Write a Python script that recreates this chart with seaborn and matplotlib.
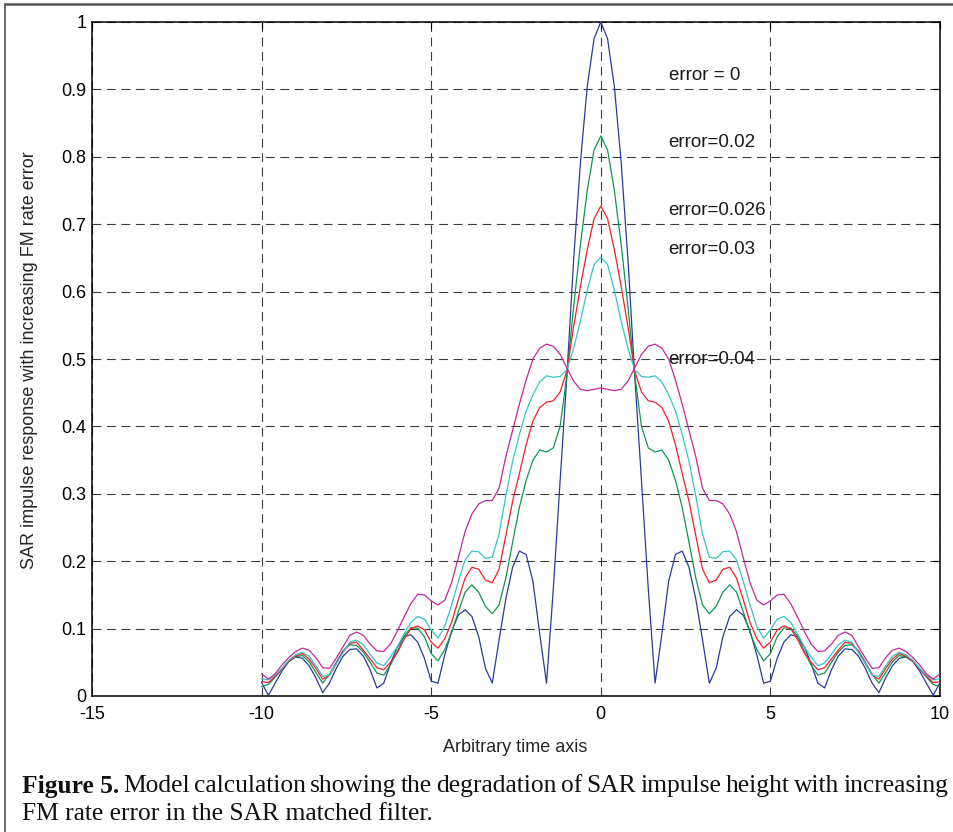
import matplotlib
matplotlib.use("Agg")
import matplotlib.pyplot as plt
from matplotlib.lines import Line2D
import numpy as np
import pandas as pd
import seaborn as sns

# ---------------- data ----------------
time_axis = [-10.0, -9.8, -9.6, -9.4, -9.2, -9.0, -8.8, -8.6, -8.4, -8.2,
             -8.0, -7.8, -7.6, -7.4, -7.2, -7.0, -6.8, -6.6, -6.4, -6.2,
             -6.0, -5.8, -5.6, -5.4, -5.2, -5.0, -4.8, -4.6, -4.4, -4.2,
             -4.0, -3.8, -3.6, -3.4, -3.2, -3.0, -2.8, -2.6, -2.4, -2.2,
             -2.0, -1.8, -1.6, -1.4, -1.2, -1.0, -0.8, -0.6, -0.4, -0.2,
             0.0, 0.2, 0.4, 0.6, 0.8, 1.0, 1.2, 1.4, 1.6, 1.8,
             2.0, 2.2, 2.4, 2.6, 2.8, 3.0, 3.2, 3.4, 3.6, 3.8,
             4.0, 4.2, 4.4, 4.6, 4.8, 5.0, 5.2, 5.4, 5.6, 5.8,
             6.0, 6.2, 6.4, 6.6, 6.8, 7.0, 7.2, 7.4, 7.6, 7.8,
             8.0, 8.2, 8.4, 8.6, 8.8, 9.0, 9.2, 9.4, 9.6, 9.8, 10.0]

err_000 = [0.020, 0.001, 0.019, 0.037, 0.051, 0.058, 0.056, 0.045, 0.027, 0.005,
           0.019, 0.041, 0.059, 0.069, 0.070, 0.059, 0.039, 0.012, 0.019, 0.048,
           0.073, 0.088, 0.091, 0.080, 0.056, 0.022, 0.019, 0.061, 0.096, 0.120,
           0.128, 0.118, 0.088, 0.041, 0.019, 0.083, 0.144, 0.191, 0.215, 0.210,
           0.170, 0.092, 0.019, 0.159, 0.319, 0.475, 0.648, 0.792, 0.904, 0.975,
           1.000,
           0.975, 0.904, 0.792, 0.648, 0.475, 0.319, 0.159, 0.019, 0.092, 0.170,
           0.210, 0.215, 0.191, 0.144, 0.083, 0.019, 0.041, 0.088, 0.118, 0.128,
           0.120, 0.096, 0.061, 0.019, 0.022, 0.056, 0.080, 0.091, 0.088, 0.073,
           0.048, 0.019, 0.012, 0.039, 0.059, 0.070, 0.069, 0.059, 0.041, 0.019,
           0.005, 0.027, 0.045, 0.056, 0.058, 0.051, 0.037, 0.019, 0.001, 0.020]

err_020 = [0.014, 0.017, 0.028, 0.040, 0.052, 0.058, 0.060, 0.051, 0.035, 0.019,
           0.032, 0.050, 0.067, 0.076, 0.075, 0.065, 0.050, 0.034, 0.031, 0.046,
           0.066, 0.089, 0.101, 0.101, 0.088, 0.063, 0.052, 0.069, 0.094, 0.125,
           0.154, 0.165, 0.154, 0.133, 0.122, 0.135, 0.175, 0.228, 0.280, 0.320,
           0.350, 0.365, 0.362, 0.368, 0.400, 0.476, 0.578, 0.670, 0.750, 0.810,
           0.831,
           0.810, 0.750, 0.670, 0.578, 0.476, 0.400, 0.368, 0.362, 0.365, 0.350,
           0.320, 0.280, 0.228, 0.175, 0.135, 0.122, 0.133, 0.154, 0.165, 0.154,
           0.125, 0.094, 0.069, 0.052, 0.063, 0.088, 0.101, 0.101, 0.089, 0.066,
           0.046, 0.031, 0.034, 0.050, 0.065, 0.075, 0.076, 0.067, 0.050, 0.032,
           0.019, 0.035, 0.051, 0.060, 0.058, 0.052, 0.040, 0.028, 0.017, 0.014]

err_026 = [0.021, 0.020, 0.029, 0.040, 0.052, 0.059, 0.063, 0.055, 0.041, 0.025,
           0.031, 0.048, 0.066, 0.078, 0.080, 0.068, 0.055, 0.042, 0.039, 0.050,
           0.064, 0.084, 0.100, 0.104, 0.098, 0.080, 0.071, 0.085, 0.109, 0.143,
           0.175, 0.191, 0.188, 0.172, 0.168, 0.188, 0.238, 0.289, 0.330, 0.373,
           0.408, 0.428, 0.436, 0.438, 0.451, 0.482, 0.548, 0.608, 0.662, 0.708,
           0.727,
           0.708, 0.662, 0.608, 0.548, 0.482, 0.451, 0.438, 0.436, 0.428, 0.408,
           0.373, 0.330, 0.289, 0.238, 0.188, 0.168, 0.172, 0.188, 0.191, 0.175,
           0.143, 0.109, 0.085, 0.071, 0.080, 0.098, 0.104, 0.100, 0.084, 0.064,
           0.050, 0.039, 0.042, 0.055, 0.068, 0.080, 0.078, 0.066, 0.048, 0.031,
           0.025, 0.041, 0.055, 0.063, 0.059, 0.052, 0.040, 0.029, 0.020, 0.021]

err_030 = [0.026, 0.024, 0.031, 0.041, 0.053, 0.061, 0.065, 0.059, 0.045, 0.029,
           0.031, 0.048, 0.064, 0.080, 0.083, 0.076, 0.062, 0.049, 0.045, 0.058,
           0.073, 0.092, 0.109, 0.118, 0.114, 0.098, 0.086, 0.103, 0.135, 0.170,
           0.202, 0.215, 0.214, 0.204, 0.206, 0.240, 0.297, 0.348, 0.388, 0.423,
           0.447, 0.466, 0.475, 0.473, 0.474, 0.484, 0.516, 0.556, 0.602, 0.640,
           0.651,
           0.640, 0.602, 0.556, 0.516, 0.484, 0.474, 0.473, 0.475, 0.466, 0.447,
           0.423, 0.388, 0.348, 0.297, 0.240, 0.206, 0.204, 0.214, 0.215, 0.202,
           0.170, 0.135, 0.103, 0.086, 0.098, 0.114, 0.118, 0.109, 0.092, 0.073,
           0.058, 0.045, 0.049, 0.062, 0.076, 0.083, 0.080, 0.064, 0.048, 0.031,
           0.029, 0.045, 0.059, 0.065, 0.061, 0.053, 0.041, 0.031, 0.024, 0.026]

err_040 = [0.033, 0.025, 0.033, 0.046, 0.057, 0.066, 0.071, 0.068, 0.057, 0.042,
           0.041, 0.056, 0.073, 0.090, 0.095, 0.090, 0.077, 0.067, 0.066, 0.077,
           0.096, 0.117, 0.137, 0.151, 0.150, 0.141, 0.135, 0.142, 0.168, 0.205,
           0.244, 0.270, 0.285, 0.290, 0.290, 0.308, 0.355, 0.394, 0.433, 0.469,
           0.500, 0.516, 0.522, 0.519, 0.507, 0.487, 0.467, 0.455, 0.453, 0.455,
           0.457,
           0.455, 0.453, 0.455, 0.467, 0.487, 0.507, 0.519, 0.522, 0.516, 0.500,
           0.469, 0.433, 0.394, 0.355, 0.308, 0.290, 0.290, 0.285, 0.270, 0.244,
           0.205, 0.168, 0.142, 0.135, 0.141, 0.150, 0.151, 0.137, 0.117, 0.096,
           0.077, 0.066, 0.067, 0.077, 0.090, 0.095, 0.090, 0.073, 0.056, 0.041,
           0.042, 0.057, 0.068, 0.071, 0.066, 0.057, 0.046, 0.033, 0.025, 0.033]

series_names = ["error = 0", "error=0.02", "error=0.026", "error=0.03", "error=0.04"]
series_values = [err_000, err_020, err_026, err_030, err_040]
series_colors = ["#2b3a96", "#0e9650", "#f0202a", "#35c4c8", "#c2289e"]
label_y = [0.921, 0.821, 0.721, 0.662, 0.4996]
label_x = 2.0

x_ticks = [-15, -10, -5, 0, 5, 10]
x_tick_labels = ["-15", "-10", "-5", "0", "5", "10"]
y_ticks = [0, 0.1, 0.2, 0.3, 0.4, 0.5, 0.6, 0.7, 0.8, 0.9, 1.0]
y_tick_labels = ["0", "0.1", "0.2", "0.3", "0.4", "0.5", "0.6", "0.7", "0.8", "0.9", "1"]

x_label = "Arbitrary time axis"
y_label = "SAR impulse response with increasing FM rate error"
caption_bold = "Figure 5."
caption_line1 = "Model calculation showing the degradation of SAR impulse height with increasing"
caption_line2 = "FM rate error in the SAR matched filter."

# ---------------- figure ----------------
sns.set_theme(style="white")
plt.rcParams["font.family"] = ["Liberation Sans", "DejaVu Sans"]

W, H = 954, 832
fig = plt.figure(figsize=(W / 100, H / 100), dpi=100)
fig.patch.set_facecolor("white")
ax = fig.add_axes([92 / W, (H - 696) / H, 848 / W, 674 / H])

frames = []
for name, vals in zip(series_names, series_values):
    frames.append(pd.DataFrame({"t": time_axis, "v": vals, "series": name}))
df = pd.concat(frames, ignore_index=True)

sns.lineplot(data=df, x="t", y="v", hue="series", hue_order=series_names,
             palette=dict(zip(series_names, series_colors)), estimator=None,
             sort=False, linewidth=0.9, legend=False, ax=ax, zorder=3)

ax.set_xlim(-15, 10)
ax.set_ylim(0, 1)
ax.set_xticks(x_ticks)
ax.set_xticklabels(x_tick_labels)
ax.set_yticks(y_ticks)
ax.set_yticklabels(y_tick_labels)
ax.set_xlabel("")
ax.set_ylabel("")

ax.grid(True, linestyle=(0, (8, 5)), color="#3c3c3c", linewidth=0.8, zorder=1)
ax.set_axisbelow(True)
ax.tick_params(direction="in", length=5, width=0.8, top=True, right=True,
               labelsize=13, colors="black")
ax.tick_params(axis="x", pad=7)
ax.tick_params(axis="y", pad=4)
for sp in ax.spines.values():
    sp.set_visible(True)
    sp.set_color("black")
    sp.set_linewidth(1.1)

for name, yy in zip(series_names, label_y):
    ax.text(label_x, yy, name, fontsize=13.5, ha="left", va="center", color="#1a1a1a", zorder=4)

fig.text(515 / W, 1 - 748 / H, x_label, fontsize=13, ha="center", va="center")
fig.text(30 / W, 1 - 360 / H, y_label, fontsize=13, ha="center", va="center", rotation=90)

# figure frame (top and left edges)
fig.add_artist(Line2D([5 / W, 1.0], [1 - 4 / H, 1 - 4 / H], transform=fig.transFigure,
                      color="#555555", linewidth=1.8))
fig.add_artist(Line2D([5 / W, 5 / W], [0.0, 1 - 4 / H], transform=fig.transFigure,
                      color="#555555", linewidth=1.2))

# caption with justified first line
serif = ["Liberation Serif", "DejaVu Serif"]
cap_size = 18.4
fig.canvas.draw()
renderer = fig.canvas.get_renderer()
left_px, right_px = 22, 948
y1 = 1 - 786 / H
y2 = 1 - 814 / H

words = [(caption_bold, "bold")] + [(w, "normal") for w in caption_line1.split()]
widths = []
for w, weight in words:
    t = fig.text(0, 0, w, fontsize=cap_size, family=serif, fontweight=weight)
    bb = t.get_window_extent(renderer)
    widths.append(bb.width)
    t.remove()
total = sum(widths)
gap = (right_px - left_px - total) / (len(words) - 1)
xpos = left_px
for (w, weight), wd in zip(words, widths):
    fig.text(xpos / W, y1, w, fontsize=cap_size, family=serif, fontweight=weight,
             ha="left", va="center", color="#111111")
    xpos += wd + gap

fig.text(left_px / W, y2, caption_line2, fontsize=cap_size, family=serif,
         ha="left", va="center", color="#111111")

fig.savefig("out.png", dpi=100, facecolor="white")
